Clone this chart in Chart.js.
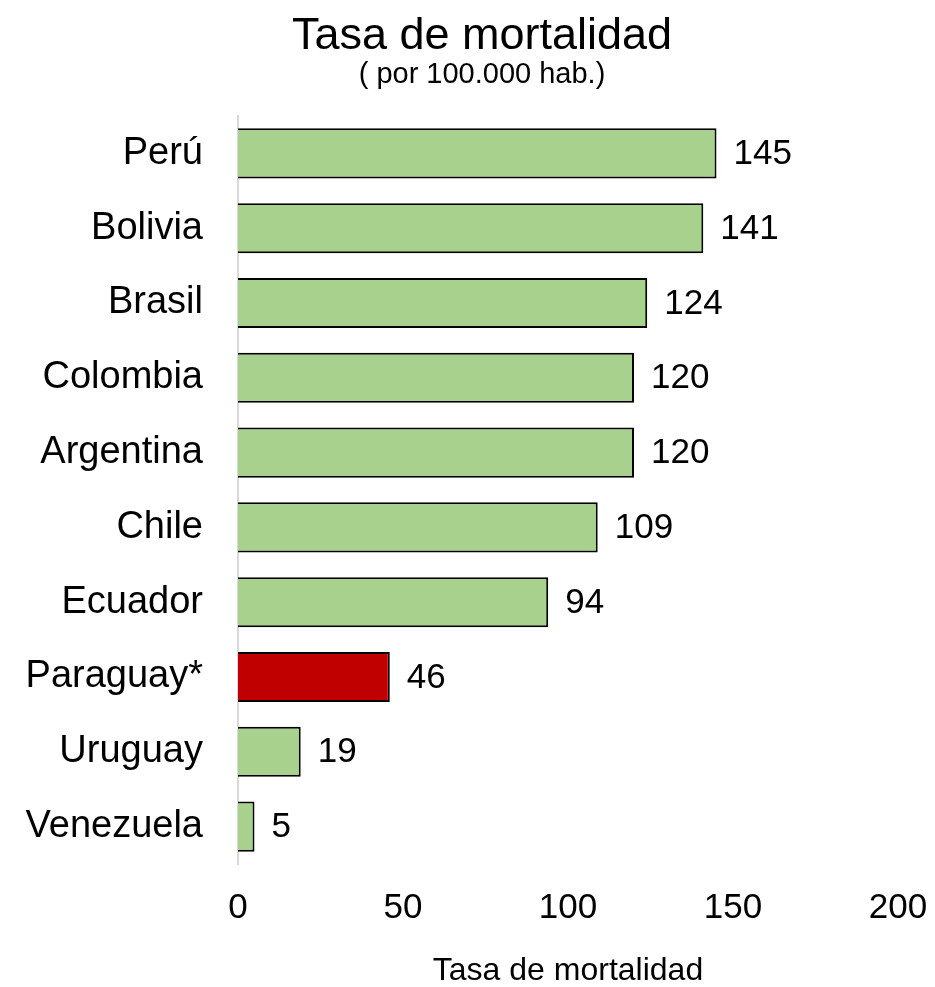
<!DOCTYPE html>
<html>
<head>
<meta charset="utf-8">
<script src="https://cdn.jsdelivr.net/npm/chart.js@4/dist/chart.umd.min.js"></script>
<style>
  html, body { margin: 0; padding: 0; background: #ffffff; }
  #wrap { width: 935px; height: 987px; position: relative; }
</style>
</head>
<body>
<div id="wrap"><canvas id="mortalidadChart" width="935" height="987"></canvas></div>
<script>
// Datos del gráfico
const paises = ['Perú', 'Bolivia', 'Brasil', 'Colombia', 'Argentina', 'Chile', 'Ecuador', 'Paraguay*', 'Uruguay', 'Venezuela'];
const tasas = [145, 141, 124, 120, 120, 109, 94, 46, 19, 5];
const destacado = 'Paraguay*';
const xTicks = [0, 50, 100, 150, 200];

const tituloTexto = 'Tasa de mortalidad';
const subtituloTexto = '( por 100.000 hab.)';
const ejeXTexto = 'Tasa de mortalidad';

const FONT = '"Liberation Sans", Arial, sans-serif';
const VERDE = '#a9d18e';
const ROJO = '#c00000';

// Title + subtitle drawn centered over the figure
const tituloPlugin = {
    id: 'tituloPlugin',
    afterDraw(chart) {
        const ctx = chart.ctx;
        ctx.save();
        ctx.fillStyle = '#000';
        ctx.textAlign = 'center';
        ctx.textBaseline = 'alphabetic';
        ctx.font = '45px ' + FONT;
        ctx.fillText(tituloTexto, 482, 49);
        ctx.font = '29px ' + FONT;
        ctx.fillText(subtituloTexto, 482, 83);
        ctx.restore();
    }
};

// Value labels at the end of each bar
const etiquetasPlugin = {
    id: 'etiquetasPlugin',
    afterDatasetsDraw(chart) {
        const ctx = chart.ctx;
        const meta = chart.getDatasetMeta(0);
        ctx.save();
        ctx.fillStyle = '#000';
        ctx.font = '35px ' + FONT;
        ctx.textAlign = 'left';
        ctx.textBaseline = 'middle';
        meta.data.forEach((bar, i) => {
            ctx.fillText(String(tasas[i]), bar.x + 17, bar.y + 1);
        });
        ctx.restore();
    }
};

const ctx = document.getElementById('mortalidadChart').getContext('2d');
new Chart(ctx, {
    type: 'bar',
    data: {
        labels: paises,
        datasets: [{
            data: tasas,
            backgroundColor: paises.map(p => p === destacado ? ROJO : VERDE),
            borderColor: '#000000',
            borderWidth: 2,
            borderSkipped: 'start',
            barPercentage: 0.67,
            categoryPercentage: 1.0
        }]
    },
    options: {
        indexAxis: 'y',
        responsive: false,
        animation: false,
        devicePixelRatio: 1,
        layout: { padding: { top: 116, right: 37, bottom: 0, left: 0 } },
        plugins: {
            legend: { display: false },
            tooltip: { enabled: false },
            title: { display: false }
        },
        scales: {
            x: {
                min: 0,
                max: 200,
                afterBuildTicks: (scale) => { scale.ticks = xTicks.map(v => ({ value: v })); },
                afterFit: (scale) => {
                    scale.height = 123;
                    scale.paddingLeft = 0;
                    scale.paddingRight = 0;
                },
                grid: { display: false },
                border: { display: false },
                ticks: {
                    padding: 15,
                    color: '#000',
                    font: { family: FONT, size: 35 }
                },
                title: {
                    display: true,
                    text: ejeXTexto,
                    color: '#000',
                    font: { family: FONT, size: 32, lineHeight: 1 },
                    padding: { top: 0, bottom: 0 }
                }
            },
            y: {
                afterFit: (scale) => { scale.width = 238; },
                grid: { display: false },
                border: { display: true, color: '#d9d9d9', width: 2 },
                ticks: {
                    padding: 27,
                    color: '#000',
                    font: { family: FONT, size: 38 }
                }
            }
        }
    },
    plugins: [tituloPlugin, etiquetasPlugin]
});
</script>
</body>
</html>
